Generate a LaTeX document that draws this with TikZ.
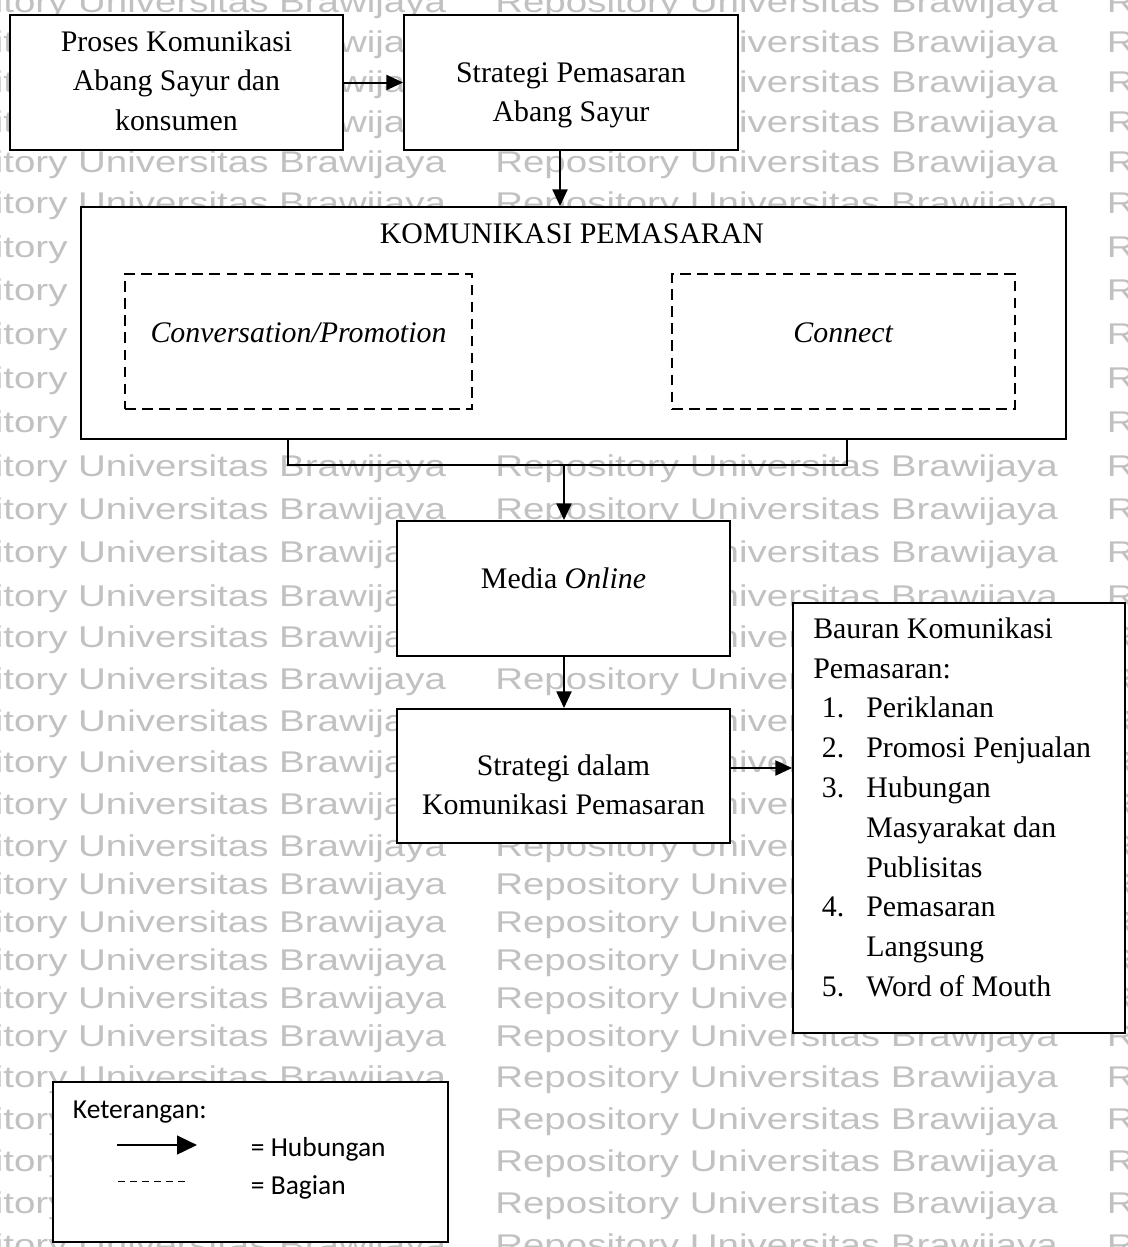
\documentclass[tikz,border=0pt]{standalone}
\usepackage{fontspec}
\setmainfont{Liberation Serif}
\newfontfamily\wmfont{Liberation Sans}
\newfontfamily\legfont{Carlito}
\usetikzlibrary{arrows.meta}
\definecolor{wmgray}{RGB}{193,193,193}

\begin{document}
\begin{tikzpicture}[x=0.75pt,y=-0.75pt,
  sz/.style 2 args={minimum width=#1*0.75pt, minimum height=#2*0.75pt},
  box/.style={draw, line width=1.4pt, fill=white, inner sep=0pt},
  partbox/.style={draw, line width=1.3pt, inner sep=0pt, dash pattern=on 8pt off 4.8pt},
  ln/.style={inner sep=0pt, anchor=base, font=\fontsize{22.4pt}{29.85pt}\selectfont},
  lnl/.style={ln, anchor=base west},
  lg/.style={inner sep=0pt, anchor=base west, font=\fontsize{20.6pt}{25pt}\legfont},
  link/.style={line width=1.5pt, -{Triangle[length=12.5pt,width=11.25pt]}},
  wm/.style={inner sep=0pt, anchor=base west, text=wmgray, font=\fontsize{22.5pt}{27pt}\wmfont},
]
\useasboundingbox (0,0) rectangle (1128,1247);
\fill[white] (0,0) rectangle (1128,1247);

% background repository lettering (row index / baseline)
\begin{scope}
  \clip (0,0) rectangle (1128,1247);
  \foreach \k/\yy in {-11/12, -10/52.2, -9/92.4, -8/132.6, -7/172.8,
      -6/213, -5/257, -4/300.9, -3/344.9, -2/388.8, -1/432.8,
      0/476.7, 1/519.8, 2/562.9, 3/606, 4/647.7, 5/689.3, 6/731,
      7/772.7, 8/814.3, 9/856, 10/894, 11/932, 12/970, 13/1008,
      14/1046, 15/1087, 16/1129, 17/1171, 18/1213, 19/1255}{
    \foreach \j in {0,1,2}{
      \node[wm] (wm-\k-\j) at ({-116.7+611.7*\j},\yy)
        {\scalebox{1.283}[1]{Repository Universitas Brawijaya}};
    }
  }
\end{scope}

% boxes
\node[box, sz={333}{135}] (pk) at (176.5,82.5) {};
\node[box, sz={334}{135}] (sp) at (571,82.5) {};
\node[box, sz={985}{232}] (kp) at (573.5,323) {};
\node[partbox, sz={347}{135}] (conv) at (298.5,341.5) {};
\node[partbox, sz={343}{135}] (conn) at (843.5,341.5) {};
\node[box, sz={333}{135}] (media) at (563.5,588.5) {};
\node[box, sz={333}{134}] (sdk) at (563.5,776) {};
\node[box, sz={332}{430}] (bauran) at (959,818) {};
\node[box, sz={395}{160}] (leg) at (250.5,1162) {};

% box texts
\node[ln] (pk-1) at (176.5,51) {Proses Komunikasi};
\node[ln] (pk-2) at (176.5,90.5) {Abang Sayur dan};
\node[ln] (pk-3) at (176.5,130) {konsumen};
\node[ln] (sp-1) at (571,82) {Strategi Pemasaran};
\node[ln] (sp-2) at (571,121.5) {Abang Sayur};
\node[ln] (kp-1) at (572,243) {KOMUNIKASI PEMASARAN};
\node[ln] (conv-1) at (298.5,342) {\textit{Conversation/Promotion}};
\node[ln] (conn-1) at (843.5,342) {\textit{Connect}};
\node[ln] (media-1) at (563.5,588.3) {Media \textit{Online}};
\node[ln] (sdk-1) at (563.5,775) {Strategi dalam};
\node[ln] (sdk-2) at (563.5,814.3) {Komunikasi Pemasaran};

\node[lnl] (b-0) at (813,638.3) {Bauran Komunikasi};
\node[lnl] (b-1) at (813,678.1) {Pemasaran:};
\node[lnl] (bn-1) at (821.7,717.9) {1.};
\node[lnl] (b-2) at (866,717.9) {Periklanan};
\node[lnl] (bn-2) at (821.7,757.7) {2.};
\node[lnl] (b-3) at (866,757.7) {Promosi Penjualan};
\node[lnl] (bn-3) at (821.7,797.5) {3.};
\node[lnl] (b-4) at (866,797.5) {Hubungan};
\node[lnl] (b-5) at (866,837.3) {Masyarakat dan};
\node[lnl] (b-6) at (866,877.1) {Publisitas};
\node[lnl] (bn-4) at (821.7,916.9) {4.};
\node[lnl] (b-7) at (866,916.9) {Pemasaran};
\node[lnl] (b-8) at (866,956.7) {Langsung};
\node[lnl] (bn-5) at (821.7,996.5) {5.};
\node[lnl] (b-9) at (866,996.5) {Word of Mouth};

% connectors
\coordinate (c-down) at (560,0);
\coordinate (br-l) at (288,465);
\coordinate (br-m) at (564,465);
\coordinate (br-r) at (847,465);
\coordinate (c-side) at (0,768);

\draw[link] (pk.east) -- (sp.west);
\draw[link] (sp.south -| c-down) -- (kp.north -| c-down);
\draw[line width=1.4pt] (kp.south -| br-l) -- (br-l) -- (br-r) -- (kp.south -| br-r);
\draw[link] (br-m) -- (media.north -| br-m);
\draw[link] (media.south -| br-m) -- (sdk.north -| br-m);
\draw[link] (sdk.east |- c-side) -- (bauran.west |- c-side);

% legend
\node[lg] (leg-t) at (72.7,1118.3) {Keterangan:};
\coordinate (la-1) at (117,1145);
\coordinate (la-2) at (197,1145);
\draw[line width=1.9pt, -{Triangle[length=15pt,width=14pt]}] (la-1) -- (la-2);
\node[lg] (leg-h) at (250.7,1156.7) {= Hubungan};
\coordinate (ld-1) at (118,1181.7);
\coordinate (ld-2) at (187,1181.7);
\draw[line width=1.1pt, dash pattern=on 5.25pt off 3.75pt] (ld-1) -- (ld-2);
\node[lg] (leg-b) at (250.7,1194) {= Bagian};
\end{tikzpicture}
\end{document}
